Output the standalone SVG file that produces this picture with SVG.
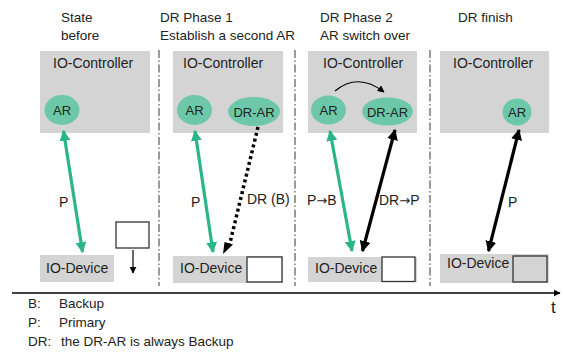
<svg xmlns="http://www.w3.org/2000/svg" width="563" height="352" viewBox="0 0 563 352">
<style>
text{font-family:"Liberation Sans",Arial,sans-serif;fill:#222;}
.t{font-size:13.5px;}
.lbl{font-size:14px;}
.arw{font-family:"DejaVu Sans",sans-serif;font-size:13px;}
.ar{font-size:13px;text-anchor:middle;}
.box{fill:#d4d4d4;}
.ell{fill:#6cc8a8;}
.wb{fill:#fff;stroke:#333;stroke-width:1.3;}
.div{stroke:#7a7a7a;stroke-width:1.5;stroke-dasharray:8 2.5 1.5 2.5;fill:none;}
.g{stroke:#2bb58a;stroke-width:3.2;fill:none;}
.k{stroke:#000;stroke-width:3.2;fill:none;}
</style>
<defs>
<marker id="hg" viewBox="0 0 10 10" refX="9" refY="5" markerWidth="11" markerHeight="11" markerUnits="userSpaceOnUse" orient="auto-start-reverse"><path d="M0,0 L10,5 L0,10 z" fill="#2bb58a"/></marker>
<marker id="hk" viewBox="0 0 10 10" refX="9" refY="5" markerWidth="11" markerHeight="11" markerUnits="userSpaceOnUse" orient="auto-start-reverse"><path d="M0,0 L10,5 L0,10 z" fill="#000"/></marker>
<marker id="hs" viewBox="0 0 10 10" refX="9" refY="5" markerWidth="7" markerHeight="7" markerUnits="userSpaceOnUse" orient="auto"><path d="M0,0 L10,5 L0,10 z" fill="#000"/></marker>
</defs>

<g id="titles">
<text class="t" x="61" y="22">State</text>
<text class="t" x="61" y="40">before</text>
<text class="t" x="160" y="22">DR Phase 1</text>
<text class="t" x="160" y="40">Establish a second AR</text>
<text class="t" x="320" y="22">DR Phase 2</text>
<text class="t" x="320" y="40">AR switch over</text>
<text class="t" x="458" y="22">DR finish</text>
</g>

<g id="dividers">
<line class="div" x1="159" y1="50" x2="159" y2="286"/>
<line class="div" x1="295" y1="50" x2="295" y2="286"/>
<line class="div" x1="430" y1="50" x2="430" y2="286"/>
</g>

<g id="ctrl1">
<rect class="box" x="40" y="51" width="110" height="82"/>
<text class="lbl" x="53" y="68">IO-Controller</text>
</g>
<g id="ar1">
<ellipse class="ell" cx="62" cy="110" rx="17.5" ry="15"/>
<text class="ar" x="62" y="115">AR</text>
</g>
<g id="dev1">
<rect class="box" x="40" y="255" width="74" height="27"/>
<text class="lbl" x="46" y="273">IO-Device</text>
</g>
<g id="wbox1">
<rect class="wb" x="116" y="222" width="33" height="26"/>
</g>

<g id="ctrl2">
<rect class="box" x="173" y="51" width="110" height="82"/>
<text class="lbl" x="183" y="68">IO-Controller</text>
</g>
<g id="ar2">
<ellipse class="ell" cx="194.5" cy="110" rx="17.5" ry="15"/>
<text class="ar" x="194.5" y="115">AR</text>
</g>
<g id="drar2">
<ellipse class="ell" cx="254" cy="111.5" rx="26" ry="14.5"/>
<text class="ar" x="254" y="116.5">DR-AR</text>
</g>
<g id="dev2">
<rect class="box" x="173" y="256" width="110" height="27"/>
<text class="lbl" x="180" y="273">IO-Device</text>
<rect class="wb" x="247" y="257" width="35" height="25"/>
</g>

<g id="ctrl3">
<rect class="box" x="308" y="51" width="109" height="82"/>
<text class="lbl" x="323" y="68">IO-Controller</text>
</g>
<g id="ar3">
<ellipse class="ell" cx="328.5" cy="110" rx="17.5" ry="14.5"/>
<text class="ar" x="328.5" y="115">AR</text>
</g>
<g id="drar3">
<ellipse class="ell" cx="387.5" cy="111.5" rx="25.5" ry="14"/>
<text class="ar" x="387.5" y="116.5">DR-AR</text>
</g>
<g id="dev3">
<rect class="box" x="308" y="257" width="109" height="25"/>
<text class="lbl" x="315" y="273">IO-Device</text>
<rect class="wb" x="382" y="257" width="33" height="24.5"/>
</g>

<g id="ctrl4">
<rect class="box" x="440" y="51" width="109" height="82"/>
<text class="lbl" x="453" y="68">IO-Controller</text>
</g>
<g id="ar4">
<ellipse class="ell" cx="517" cy="112" rx="14.5" ry="13.5"/>
<text class="ar" x="517" y="117">AR</text>
</g>
<g id="dev4">
<rect class="box" x="440" y="254" width="109" height="29"/>
<text class="lbl" x="447" y="268">IO-Device</text>
<rect x="513" y="256" width="34" height="26" fill="#d4d4d4" stroke="#333" stroke-width="1.3"/>
</g>

<g id="connectors">
<line class="g" x1="63.5" y1="131" x2="82.5" y2="252" marker-start="url(#hg)" marker-end="url(#hg)"/>
<line x1="133" y1="250" x2="133" y2="273" stroke="#000" stroke-width="1.2" marker-end="url(#hs)"/>
<line class="g" x1="195" y1="131" x2="213" y2="252" marker-start="url(#hg)" marker-end="url(#hg)"/>
<line x1="258" y1="127" x2="229" y2="247" stroke="#000" stroke-width="3.5" stroke-dasharray="3 3"/>
<path d="M223,254 L224.5,242 L233,244.5 z" fill="#000"/>
<line class="g" x1="330" y1="131" x2="352" y2="251" marker-start="url(#hg)" marker-end="url(#hg)"/>
<line class="k" x1="395" y1="130" x2="362.5" y2="251" marker-start="url(#hk)" marker-end="url(#hk)"/>
<path d="M335,91 Q358,72 384,92" stroke="#000" stroke-width="1.2" fill="none" marker-end="url(#hs)"/>
<line class="k" x1="519" y1="130" x2="488.5" y2="251" marker-start="url(#hk)" marker-end="url(#hk)"/>
<line x1="12" y1="293" x2="560" y2="293" stroke="#000" stroke-width="1.5" marker-end="url(#hs)"/>
</g>

<g id="labels">
<text class="lbl" x="59" y="207">P</text>
<text class="lbl" x="191" y="207">P</text>
<text class="lbl" x="247" y="204">DR (B)</text>
<text class="lbl" x="307" y="205">P<tspan class="arw">→</tspan>B</text>
<text class="lbl" x="379" y="205">DR<tspan class="arw">→</tspan>P</text>
<text class="lbl" x="508" y="207">P</text>
<text x="551" y="313" style="font-size:17px">t</text>
</g>

<g id="legend">
<text class="t" x="28" y="308">B:</text>
<text class="t" x="59" y="308">Backup</text>
<text class="t" x="28" y="327">P:</text>
<text class="t" x="59" y="327">Primary</text>
<text class="t" x="28" y="346"><tspan>DR:</tspan><tspan x="61">the DR-AR is always Backup</tspan></text>
</g>
</svg>
